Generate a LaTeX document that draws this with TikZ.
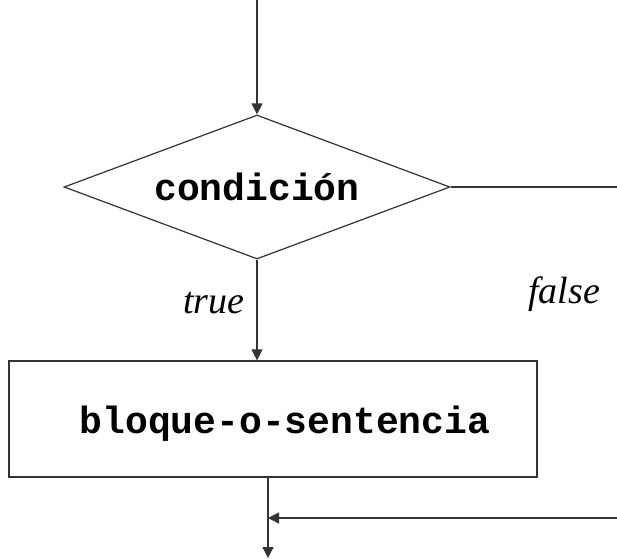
\documentclass[tikz,border=0pt]{standalone}
\usepackage{fontspec}
\setmainfont{Liberation Serif}
\setmonofont{Liberation Mono}
\usetikzlibrary{shapes.geometric,arrows.meta}
\begin{document}
\begin{tikzpicture}[x=1pt,y=-1pt,
  flow/.style={draw=black!80,line width=1.2pt},
  tip/.style={-{Triangle[length=11pt,width=11pt]}},
  code/.style={font=\fontsize{38}{40}\selectfont\ttfamily\bfseries},
  lbl/.style={font=\fontsize{38}{40}\selectfont\itshape},
  decision/.style={flow,diamond,aspect=2.68,minimum width=386pt,minimum height=144pt,inner sep=0pt,code},
  block/.style={flow,rectangle,minimum width=528pt,minimum height=116pt,inner sep=0pt,code,text height=34pt,text depth=6pt}]
\useasboundingbox (0,0) rectangle (617,558);
\node[decision] (cond) at (257,187) {condición};
\node[block] (blk) at (273,419) {\hspace*{24pt}bloque-o-sentencia};
\coordinate (in) at (257,0);
\coordinate (exitR) at (617,187);
\coordinate (merge) at (268,518);
\coordinate (back) at (617,518);
\coordinate (out) at (268,558);
\draw[flow,tip] (in) -- (cond.north);
\draw[flow] (cond.east) -- (exitR);
\draw[flow,tip] (cond.south) -- (cond.south |- blk.north);
\draw[flow] (blk.south -| merge) -- (merge);
\draw[flow,tip] (merge) -- (out);
\draw[flow,tip] (back) -- (merge);
\node[lbl] (t) at (214,303) {true};
\node[lbl] (f) at (564,294) {false};
\end{tikzpicture}
\end{document}
